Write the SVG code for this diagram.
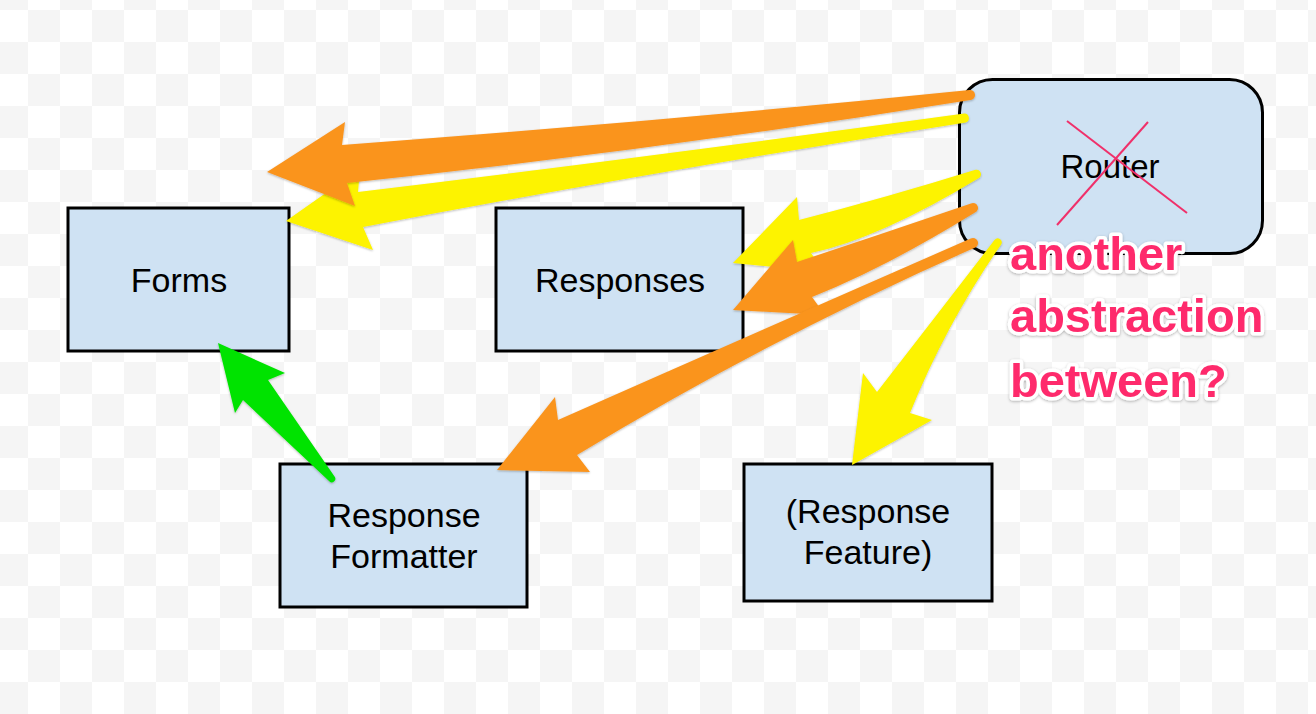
<svg xmlns="http://www.w3.org/2000/svg" width="1316" height="714" viewBox="0 0 1316 714">
  <defs>
    <pattern id="checker" x="-4" y="-22" width="64" height="64" patternUnits="userSpaceOnUse">
      <rect width="64" height="64" fill="#ffffff"/>
      <rect width="32" height="32" fill="#f5f5f5"/>
      <rect x="32" y="32" width="32" height="32" fill="#f5f5f5"/>
    </pattern>
    <filter id="shadow" x="-10%" y="-10%" width="120%" height="120%">
      <feDropShadow dx="0" dy="1" stdDeviation="1.2" flood-color="#000" flood-opacity="0.28"/>
    </filter>
    <filter id="tshadow" x="-10%" y="-20%" width="120%" height="140%">
      <feDropShadow dx="0" dy="1" stdDeviation="1.5" flood-color="#000" flood-opacity="0.3"/>
    </filter>
  </defs>
  <style>
    .box { fill: #cfe2f3; stroke: #000; stroke-width: 3; }
    .label { font-family: "Liberation Sans", Arial, sans-serif; font-size: 34px; fill: #000; text-anchor: middle; }
    .orange { fill: #fa941f; filter: url(#shadow); }
    .yellow { fill: #fdf300; filter: url(#shadow); }
    .green { fill: #05e305; filter: url(#shadow); }
    .cross { stroke: #f0306a; stroke-width: 2; fill: none; }
    .note { font-family: "Liberation Sans", Arial, sans-serif; font-weight: bold; font-size: 47px; fill: #fe2c6c; stroke: #ffffff; stroke-width: 7; stroke-linejoin: round; paint-order: stroke; filter: url(#tshadow); }
  </style>

  <rect width="1316" height="714" fill="url(#checker)"/>

  <g id="node-forms">
    <rect class="box" x="68" y="208" width="221" height="143"/>
    <text class="label" x="179" y="292">Forms</text>
  </g>
  <g id="node-responses">
    <rect class="box" x="496" y="208" width="247" height="143"/>
    <text class="label" x="620" y="292">Responses</text>
  </g>
  <g id="node-router">
    <rect class="box" x="959.5" y="79.5" width="303" height="174" rx="33" ry="33"/>
    <text class="label" x="1110" y="178" style="font-size:33px">Router</text>
    <line class="cross" x1="1067" y1="121" x2="1187" y2="213"/>
    <line class="cross" x1="1148" y1="122" x2="1057" y2="225"/>
  </g>
  <g id="node-response-formatter">
    <rect class="box" x="280" y="464" width="247" height="143"/>
    <text class="label" x="404" y="527">Response</text>
    <text class="label" x="404" y="568">Formatter</text>
  </g>
  <g id="node-response-feature">
    <rect class="box" x="744" y="464" width="248" height="137"/>
    <text class="label" x="868" y="523">(Response</text>
    <text class="label" x="868" y="564">Feature)</text>
  </g>

  <g id="connectors">
    <path class="yellow" d="M964.3,113.6 Q640,158 358,192 L360,169 L286,221 L373,250 L363,227 Q650,172 965.7,122.4 A4.5,4.5 0 0 0 964.3,113.6 Z"/>
    <path class="orange" d="M969.5,90 Q655,122 342,145 L345,122 L267,172 L355,206 L347,183 Q660,150 970.5,100 A5,5 0 0 0 969.5,90 Z"/>
    <path class="yellow" d="M975.5,169.8 Q885,198 799,220 L797,197 L733,263 L824,272 L811,253 Q880,238 978.5,178.2 A4.5,4.5 0 0 0 975.5,169.8 Z"/>
    <path class="orange" d="M971,203.4 Q884,233 797,262 L793,240 L733,310 L825,315 L812,297 Q885,268 975,212.6 A5,5 0 0 0 971,203.4 Z"/>
    <path class="orange" d="M970.8,238.5 Q764,329 558,420 L555,397 L497,470 L590,472 L577,455 Q770,338 975.2,247.5 A5,5 0 0 0 970.8,238.5 Z"/>
    <path class="yellow" d="M994.7,239.8 Q936,316 877,392 L863,373 L852,465 L932,420 L910,413 Q946,324 1001.3,244.2 A4,4 0 0 0 994.7,239.8 Z"/>
    <path class="green" d="M334.7,476.8 L268,380 L285,373 L218,343 L235,413 L243,400 L329.3,481.2 A3.5,3.5 0 0 0 334.7,476.8 Z"/>
  </g>

  <g id="annotation">
    <text class="note" x="1010" y="270">another</text>
    <text class="note" x="1010" y="332">abstraction</text>
    <text class="note" x="1010" y="397">between?</text>
  </g>
</svg>
